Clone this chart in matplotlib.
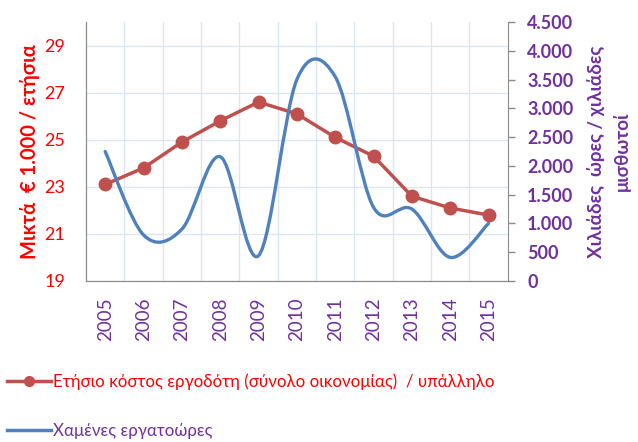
import numpy as np
import matplotlib
matplotlib.use('Agg')
import matplotlib.pyplot as plt
from matplotlib.path import Path
from matplotlib.patches import PathPatch
from matplotlib.lines import Line2D

plt.rcParams['font.family'] = ['Lato', 'Noto Sans', 'DejaVu Sans']

# data
years = ['2005', '2006', '2007', '2008', '2009', '2010',
         '2011', '2012', '2013', '2014', '2015']
cost = [23.1, 23.8, 24.9, 25.8, 26.6, 26.1, 25.1, 24.3, 22.6, 22.1, 21.8]
lost_hours = [2250, 800, 900, 2160, 440, 3500, 3550, 1280, 1250, 410, 1000]
left_ticks = [19, 21, 23, 25, 27, 29]
right_ticks = [0, 500, 1000, 1500, 2000, 2500, 3000, 3500, 4000, 4500]
right_labels = ['0', '500', '1.000', '1.500', '2.000', '2.500',
                '3.000', '3.500', '4.000', '4.500']

red = '#FF0000'
purple = '#7030A0'
line_red = '#C0504D'
line_blue = '#4F81BD'
grid_col = '#DCE6F2'
spine_col = '#8C8C8C'

fig = plt.figure(figsize=(6.38, 4.42), dpi=100)
ax = fig.add_axes([0.1348, 0.3643, 0.6610, 0.5859])
ax2 = ax.twinx()

x = np.arange(len(years))

# red series, left axis
ax.plot(x, cost, color=line_red, lw=2.5, marker='o', ms=9,
        markerfacecolor=line_red, markeredgecolor=line_red, zorder=3)
ax.set_xlim(-0.5, len(years) - 0.5)
ax.set_ylim(19, 30)
ax.set_yticks(left_ticks)
ax.set_yticklabels([str(v) for v in left_ticks])
ax.tick_params(axis='y', length=0, pad=15, labelsize=13, labelcolor=red)
ax.set_xticks(x)
ax.set_xticklabels(years, rotation=90)
ax.tick_params(axis='x', length=0, pad=12, labelsize=13.5, labelcolor=purple)
ax.set_xticks(x[:-1] + 0.5, minor=True)
ax.tick_params(axis='x', which='minor', length=0)
ax.grid(True, axis='y', color=grid_col, lw=1)
ax.grid(True, axis='x', which='minor', color=grid_col, lw=1)
ax.set_axisbelow(True)
ax.set_ylabel('Μικτά  € 1.000 / ετήσια', color=red, fontsize=14.5,
              fontweight='bold', labelpad=3)

# blue series, right axis, smoothed like the spreadsheet line
p = np.array(lost_hours, dtype=float)
pp = np.concatenate([[p[0]], p, [p[-1]]])
xx = np.concatenate([[x[0]], x, [x[-1]]]).astype(float)
verts = [(x[0], p[0])]
codes = [Path.MOVETO]
for i in range(len(p) - 1):
    c1 = (xx[i + 1] + (xx[i + 2] - xx[i]) / 6, pp[i + 1] + (pp[i + 2] - pp[i]) / 6)
    c2 = (xx[i + 2] - (xx[i + 3] - xx[i + 1]) / 6, pp[i + 2] - (pp[i + 3] - pp[i + 1]) / 6)
    verts += [c1, c2, (x[i + 1], p[i + 1])]
    codes += [Path.CURVE4] * 3
ax2.add_patch(PathPatch(Path(verts, codes), fill=False, edgecolor=line_blue,
                        lw=2.4, capstyle='round', joinstyle='round'))
ax2.set_ylim(0, 4500)
ax2.set_yticks(right_ticks)
ax2.set_yticklabels(right_labels)
ax2.tick_params(axis='y', length=5, width=1, color=spine_col, pad=9,
                labelsize=13, labelcolor=purple)
for lbl in ax2.get_yticklabels():
    lbl.set_fontweight('bold')
ax2.set_ylabel('Χιλιάδες  ώρες / χιλιάδες\nμισθωτοί', color=purple,
               fontsize=13.5, fontweight='bold', rotation=90, labelpad=10,
               linespacing=1.5)

for a in (ax, ax2):
    for s in a.spines.values():
        s.set_color(spine_col)
    a.spines['top'].set_visible(False)
ax.spines['right'].set_visible(False)

handles = [Line2D([], [], color=line_red, lw=2.5, marker='o', ms=7),
           Line2D([], [], color=line_blue, lw=2.5)]
labels = ['Ετήσιο κόστος εργοδότη (σύνολο οικονομίας)  / υπάλληλο',
          'Χαμένες εργατοώρες']
leg = fig.legend(handles, labels, loc='upper left', bbox_to_anchor=(0.0, 0.17),
                 frameon=False, fontsize=12.2, handlelength=2.6,
                 handletextpad=0.15, labelspacing=1.95, borderaxespad=0)
for t, c in zip(leg.get_texts(), [red, purple]):
    t.set_color(c)

fig.savefig('out.png', dpi=100)
